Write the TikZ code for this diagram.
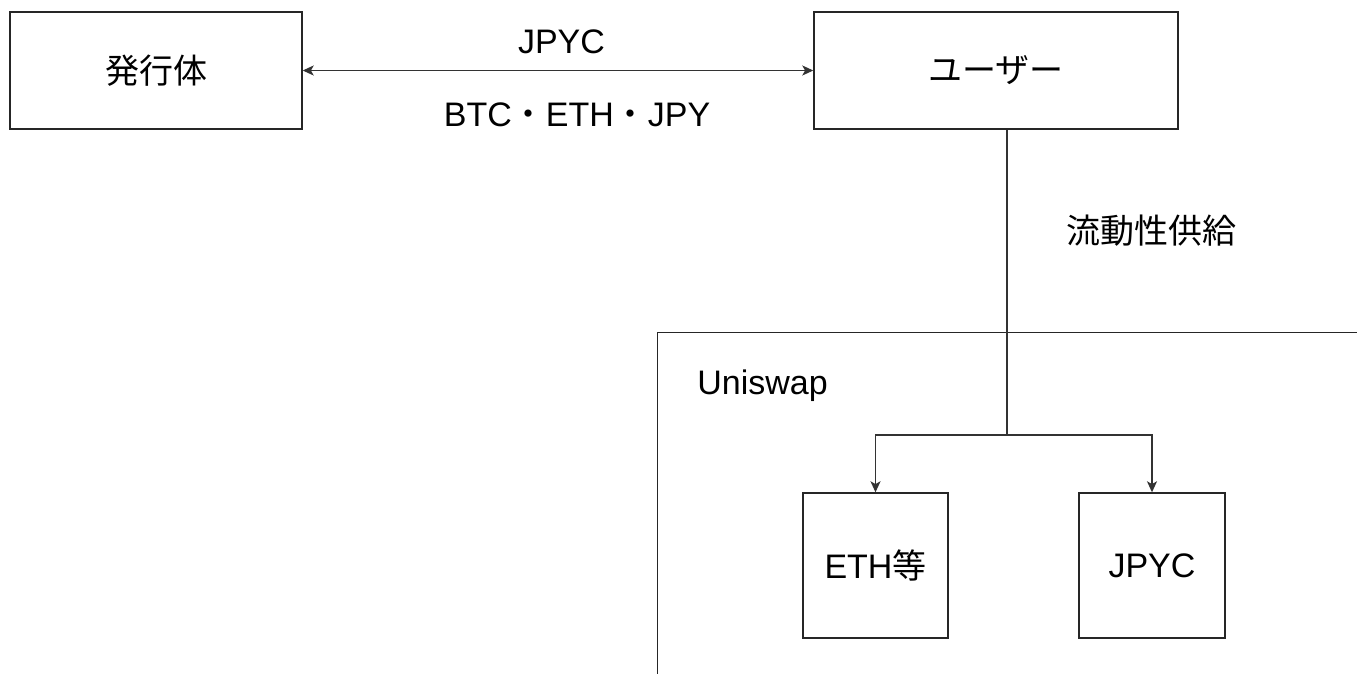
\documentclass[tikz,border=0pt]{standalone}
\usepackage{fontspec}
\setmainfont{Liberation Sans}
\newfontfamily\jp{Noto Sans CJK JP}
\usetikzlibrary{arrows.meta}
\begin{document}
\begin{tikzpicture}[x=0.5pt,y=-0.5pt,
  every node/.style={font=\fontsize{17pt}{20pt}\selectfont, text=black},
  box/.style={draw=black!85, line width=0.7pt, rectangle, inner sep=0pt, fill=white},
  conn/.style={draw=black!80, line width=0.7pt},
  tip/.style={-{Stealth[length=5.5pt,width=5pt,inset=1.4pt]}},
  dtip/.style={{Stealth[length=5.5pt,width=5pt,inset=1.4pt]}-{Stealth[length=5.5pt,width=5pt,inset=1.4pt]}},
  lbl/.style={inner sep=0pt}
]
\useasboundingbox (0,0) rectangle (1357,674);
\clip (0,0) rectangle (1357,674);
\fill[white] (0,0) rectangle (1357,674);

% Uniswap container (extends past the frame)
\node[box, fill=none, anchor=north west, minimum width=400pt, minimum height=200pt] (uni) at (657,332) {};
\node[lbl, anchor=west] (unilbl) at (697,386) {Uniswap};

% top row
\node[box, minimum width=146pt, minimum height=58.5pt] (hakko) at (156,70.5) {\jp 発行体};
\node[box, minimum width=182pt, minimum height=58.5pt] (user) at (996,70.5) {\jp ユーザー};

\draw[conn, dtip] (hakko.east) -- (user.west);
\node[lbl] (jpyclbl) at (561.5,42) {JPYC};
\node[lbl] (paylbl) at (577,115) {BTC{\jp ・}ETH{\jp ・}JPY};

% pools
\node[box, minimum width=72.5pt, minimum height=72.5pt] (eth) at (875.5,565.5) {ETH{\jp 等}};
\node[box, minimum width=73pt, minimum height=72.5pt] (jpyc) at (1152,565.5) {JPYC};

\coordinate (jn) at (1007,435);
\draw[conn] (user.south -| jn) -- (jn);
\draw[conn, tip] (jn) -| (eth.north);
\draw[conn, tip] (jn) -| (jpyc.north);
\node[lbl] (supply) at (1151.5,231) {\jp 流動性供給};
\end{tikzpicture}
\end{document}
